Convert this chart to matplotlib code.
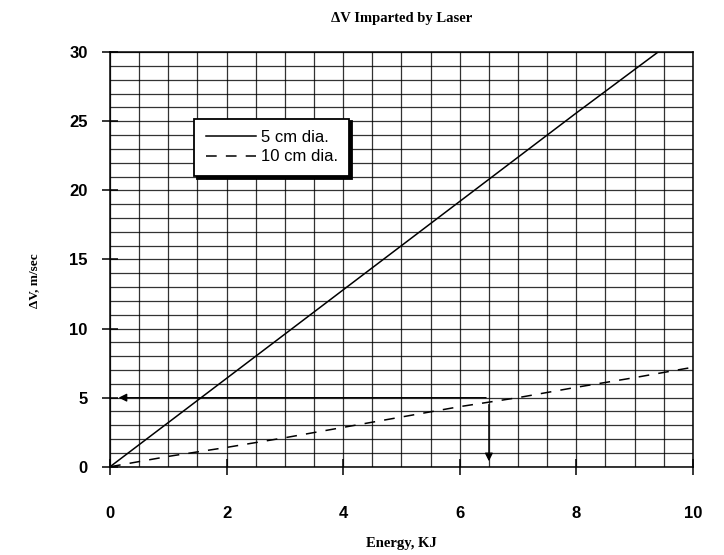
import numpy as np
import matplotlib
matplotlib.use('Agg')
import matplotlib.pyplot as plt
from matplotlib.ticker import MultipleLocator

# values
energy_5cm = [0, 2, 4, 6, 8, 9.4]
dv_5cm = [0, 6.4, 12.8, 19.2, 25.6, 30]

energy_10cm = [0, 1, 2, 3, 4, 5, 6, 7, 8, 9, 10]
dv_10cm = [0, 0.75, 1.4, 2.1, 2.85, 3.6, 4.35, 5.0, 5.75, 6.45, 7.2]

labels = ['5 cm dia.', '10 cm dia.']

# reading arrows drawn on the original
read_energy = 6.5
read_dv = 5
read_dv_start = 4.7

serif = 'Liberation Serif'
sans = 'Liberation Sans'

fig = plt.figure(figsize=(7.24, 5.55), dpi=100)
ax = fig.add_axes([0.152, 0.159, 0.805, 0.747])

ax.plot(energy_5cm, dv_5cm, color='black', lw=1.1, label=labels[0])
ax.plot(energy_10cm, dv_10cm, color='black', lw=1.1, dashes=(7, 6), label=labels[1])

ax.set_xlim(0, 10)
ax.set_ylim(0, 30)

ax.xaxis.set_major_locator(MultipleLocator(2))
ax.xaxis.set_minor_locator(MultipleLocator(0.5))
ax.yaxis.set_major_locator(MultipleLocator(5))
ax.yaxis.set_minor_locator(MultipleLocator(1))
ax.grid(which='both', color='black', lw=0.9, alpha=0.8)
ax.set_axisbelow(True)

for s in ax.spines.values():
    s.set_linewidth(1.1)

ax.tick_params(which='major', direction='inout', length=12, width=1.1)
ax.tick_params(axis='y', which='major', pad=10)
ax.tick_params(axis='x', which='major', pad=22)
ax.tick_params(which='minor', length=0)
for lab in ax.get_xticklabels() + ax.get_yticklabels():
    lab.set_fontfamily(sans)
    lab.set_fontweight('bold')
    lab.set_fontsize(12)

ax.set_title('ΔV Imparted by Laser', fontfamily=serif, fontweight='bold', fontsize=10.5, pad=22)
ax.set_xlabel('Energy, KJ', fontfamily=serif, fontweight='bold', fontsize=10.5)
ax.xaxis.set_label_coords(0.5, -0.17)
ax.set_ylabel('ΔV, m/sec', fontfamily=serif, fontweight='bold', fontsize=9.5)
ax.yaxis.set_label_coords(-0.12, 0.45)

# reading arrows
ax.annotate('', xy=(0.1, read_dv), xytext=(read_energy, read_dv),
            arrowprops=dict(arrowstyle='-|>', color='black', lw=0.9, mutation_scale=12))
ax.annotate('', xy=(read_energy, 0.2), xytext=(read_energy, read_dv_start),
            arrowprops=dict(arrowstyle='-|>', color='black', lw=0.9, mutation_scale=12))

leg = ax.legend(loc='upper left', bbox_to_anchor=(0.13, 0.86), frameon=True,
                fancybox=False, shadow={'color': 'black', 'alpha': 1}, handlelength=3.0,
                handletextpad=0.3, borderpad=0.7, labelspacing=0.25,
                prop={'family': sans, 'size': 12})
leg.get_frame().set_edgecolor('black')
leg.get_frame().set_linewidth(1.3)
leg.get_frame().set_alpha(1)

plt.savefig('out.png', dpi=100)
plt.close()
